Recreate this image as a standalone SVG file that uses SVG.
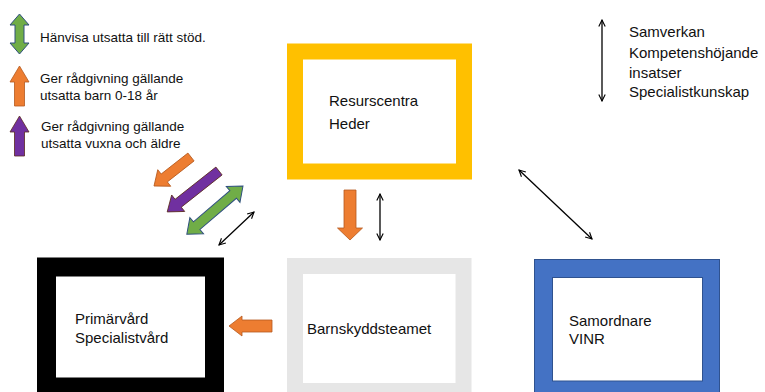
<svg xmlns="http://www.w3.org/2000/svg" width="765" height="392" viewBox="0 0 765 392">
<style>
text{font-family:"Liberation Sans",Arial,sans-serif;fill:#111}
.lg{font-size:13.5px}
.nd{font-size:15px}
.thin{stroke:#000;stroke-width:1.3;fill:none;marker-start:url(#oh);marker-end:url(#oh)}
.or{fill:#ED7D31;stroke:#B5591E;stroke-width:0.8}
.pu{fill:#7030A0;stroke:#5A2A1E;stroke-width:0.8}
.gr{fill:#70AD47;stroke:#2F4F7F;stroke-width:1}
</style>
<defs>
<marker id="oh" viewBox="0 0 10 10" refX="9" refY="5" markerWidth="8" markerHeight="8" markerUnits="userSpaceOnUse" orient="auto-start-reverse">
<path d="M1,1 L9,5 L1,9" fill="none" stroke="#000" stroke-width="1.4"/>
</marker>
</defs>
<rect width="765" height="392" fill="#fff"/>

<g id="legend">
<polygon class="gr" points="19.5,14 29,25 24,25 24,43 29,43 19.5,54 10,43 15,43 15,25 10,25"/>
<text class="lg" x="40" y="42">Hänvisa utsatta till rätt stöd.</text>
<polygon class="or" points="19.5,66 29,82 24.5,82 24.5,106 14.5,106 14.5,82 10,82"/>
<text class="lg" x="40" y="83">Ger rådgivning gällande</text>
<text class="lg" x="40" y="100">utsatta barn 0-18 år</text>
<polygon class="pu" points="19.5,116 29,132 24.5,132 24.5,156 14.5,156 14.5,132 10,132"/>
<text class="lg" x="41" y="131">Ger rådgivning gällande</text>
<text class="lg" x="41" y="148">utsatta vuxna och äldre</text>
</g>

<g id="resurscentra">
<rect x="295" y="51.5" width="169" height="120" fill="#fff" stroke="#FFC000" stroke-width="16"/>
<text class="nd" x="329" y="106">Resurscentra</text>
<text class="nd" x="329" y="129">Heder</text>
</g>

<g id="primarvard">
<rect x="46.5" y="267" width="168" height="120" fill="#fff" stroke="#000" stroke-width="19"/>
<text class="nd" x="75" y="324">Primärvård</text>
<text class="nd" x="75" y="343">Specialistvård</text>
</g>

<g id="barnskyddsteamet">
<rect x="295" y="266" width="168.5" height="125" fill="#fff" stroke="#E6E6E6" stroke-width="16"/>
<text class="nd" x="307" y="334">Barnskyddsteamet</text>
</g>

<g id="samordnare">
<rect x="534.5" y="259.5" width="185" height="140" fill="#4472C4" stroke="#2F528F" stroke-width="1"/>
<rect x="552.5" y="277.5" width="150" height="103.5" fill="#fff" stroke="#2F528F" stroke-width="1"/>
<text class="nd" x="569" y="326">Samordnare</text>
<text class="nd" x="569" y="344">VINR</text>
</g>

<g id="samverkan-legend">
<line class="thin" x1="602" y1="20" x2="602" y2="101"/>
<text class="nd" x="629" y="37">Samverkan</text>
<text class="nd" x="629" y="58">Kompetenshöjande</text>
<text class="nd" x="629" y="78">insatser</text>
<text class="nd" x="629" y="97">Specialistkunskap</text>
</g>

<g id="connectors">
<!-- diagonal orange: tail (191,157) to tip (154,186) -->
<polygon class="or" transform="translate(191,157) rotate(141.9)" points="0,-5 34,-5 34,-10.5 47,0 34,10.5 34,5 0,5"/>
<!-- diagonal purple -->
<polygon class="pu" transform="translate(219,171) rotate(141.7)" points="0,-5 52,-5 52,-10.5 66,0 52,10.5 52,5 0,5"/>
<!-- diagonal green double -->
<polygon class="gr" transform="translate(243,186) rotate(139.4)" points="0,0 13,-10.5 13,-5 61,-5 61,-10.5 74,0 61,10.5 61,5 13,5 13,10.5"/>
<line class="thin" x1="254" y1="212" x2="219" y2="245"/>
<!-- vertical orange down -->
<polygon class="or" points="344,190 356,190 356,228 362.5,228 350,240 337.5,228 344,228"/>
<line class="thin" x1="380" y1="194" x2="380" y2="240"/>
<!-- left orange -->
<polygon class="or" points="272,320 242,320 242,316 229,326 242,336 242,332 272,332"/>
<line class="thin" x1="519" y1="170" x2="592" y2="239"/>
</g>
</svg>
